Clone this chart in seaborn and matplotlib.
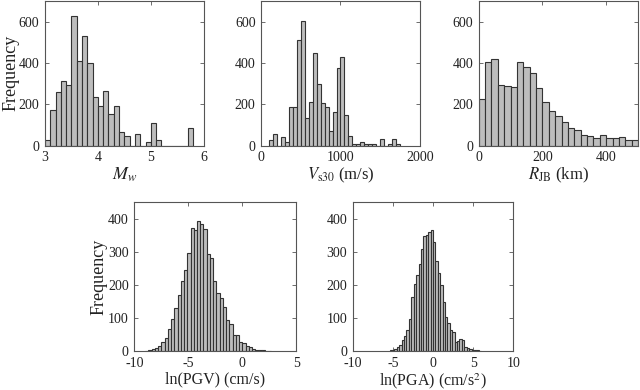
import numpy as np
import pandas as pd
import matplotlib
matplotlib.use("Agg")
import matplotlib.pyplot as plt
import seaborn as sns

# histogram counts (bin start, bin width, counts)
mw_start, mw_width = 3.0, 0.1
mw_counts = [27, 174, 259, 315, 293, 627, 408, 531, 400, 237, 192, 266, 152, 194,
             67, 46, 0, 59, 0, 19, 112, 30, 0, 0, 0, 0, 0, 85]

vs30_start, vs30_width = 100, 50
vs30_counts = [26, 58, 0, 45, 18, 187, 187, 509, 602, 133, 211, 448, 299, 206, 187,
               74, 162, 374, 429, 147, 48, 10, 8, 18, 11, 11, 11, 0, 34, 0, 8, 35, 10]

rjb_start, rjb_width = 0, 20
rjb_counts = [226, 403, 421, 294, 291, 286, 403, 382, 350, 280, 214, 166, 142, 114,
              85, 75, 53, 48, 40, 51, 38, 37, 43, 30, 29]

pgv_start, pgv_width = -9.0, 0.3
pgv_counts = [1, 3, 5, 9, 16, 27, 40, 65, 98, 130, 170, 210, 246, 296, 373, 365, 393,
              383, 370, 293, 281, 210, 175, 161, 134, 93, 83, 48, 48, 27, 23, 15, 11,
              7, 4, 3, 2, 1, 1]

pga_start, pga_width = -5.4, 0.3
pga_counts = [2, 3, 5, 12, 19, 32, 46, 63, 98, 164, 202, 230, 263, 307, 347, 350, 360,
              366, 330, 271, 236, 200, 149, 104, 86, 63, 58, 28, 30, 36, 33, 12, 9, 6,
              4, 3, 2, 1]

sns.set_theme(style="ticks")
plt.rcParams['font.family'] = ['Liberation Serif', 'DejaVu Serif']
plt.rcParams['mathtext.fontset'] = 'stix'
plt.rcParams['axes.unicode_minus'] = False
plt.rcParams['axes.edgecolor'] = '#555555'
plt.rcParams['axes.linewidth'] = 0.8
plt.rcParams['xtick.color'] = '#555555'
plt.rcParams['ytick.color'] = '#555555'
plt.rcParams['xtick.labelcolor'] = '#222222'
plt.rcParams['ytick.labelcolor'] = '#222222'


def draw_hist(ax, start, width, counts, xlim, xticks, ylim, yticks, xlabel,
              label_size=12):
    n = len(counts)
    centers = start + width * (np.arange(n) + 0.5)
    df = pd.DataFrame({'center': centers, 'count': counts})
    sns.histplot(data=df, x='center', weights='count', binwidth=width,
                 binrange=(start, start + width * n), ax=ax,
                 color='#bdbdbd', edgecolor='#333333', linewidth=0.8, alpha=1)
    ax.set_xlim(*xlim)
    ax.set_ylim(*ylim)
    ax.set_xticks(xticks)
    ax.set_yticks(yticks)
    ax.tick_params(direction='in', length=3, width=0.6, top=True, right=True,
                   labelsize=10)
    ax.tick_params(axis='x', pad=4)
    ax.tick_params(axis='y', pad=4)
    ax.set_xlabel(xlabel, fontsize=label_size, color='#222222', labelpad=1)
    ax.set_ylabel('')
    for s in ax.spines.values():
        s.set_visible(True)


fig = plt.figure(figsize=(6.4, 3.9), dpi=100)

ax1 = fig.add_axes([0.0703, 0.626, 0.248, 0.372])
ax2 = fig.add_axes([0.408, 0.626, 0.248, 0.372])
ax3 = fig.add_axes([0.748, 0.626, 0.249, 0.372])
ax4 = fig.add_axes([0.210, 0.100, 0.253, 0.382])
ax5 = fig.add_axes([0.551, 0.100, 0.251, 0.382])

draw_hist(ax1, mw_start, mw_width, mw_counts, (3, 6), [3, 4, 5, 6],
          (0, 700), [0, 200, 400, 600], r'$M_w$', 13)
draw_hist(ax2, vs30_start, vs30_width, vs30_counts, (0, 2000), [0, 1000, 2000],
          (0, 700), [0, 200, 400, 600], r'$V_{\mathrm{s30}}$ (m/s)')
draw_hist(ax3, rjb_start, rjb_width, rjb_counts, (0, 500), [0, 200, 400],
          (0, 700), [0, 200, 400, 600], r'$R_{\mathrm{JB}}$ (km)')
draw_hist(ax4, pgv_start, pgv_width, pgv_counts, (-10, 5), [-10, -5, 0, 5],
          (0, 450), [0, 100, 200, 300, 400], 'ln(PGV) (cm/s)', 11.5)
draw_hist(ax5, pga_start, pga_width, pga_counts, (-10, 10), [-10, -5, 0, 5, 10],
          (0, 450), [0, 100, 200, 300, 400], r'ln(PGA) (cm/s$^2$)', 11.5)

ax1.set_ylabel('Frequency', fontsize=13, color='#222222')
ax1.yaxis.set_label_coords(-0.16, 0.5)
ax4.set_ylabel('Frequency', fontsize=13, color='#222222')
ax4.yaxis.set_label_coords(-0.165, 0.5)

fig.savefig('out.png', dpi=100)
